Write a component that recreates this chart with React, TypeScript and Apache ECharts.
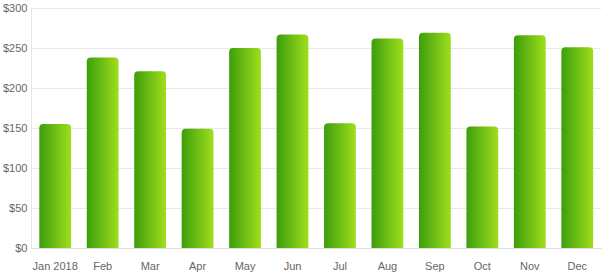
import React, { useEffect, useRef } from "react";
import * as echarts from "echarts";

const categories = ["Jan 2018", "Feb", "Mar", "Apr", "May", "Jun", "Jul", "Aug", "Sep", "Oct", "Nov", "Dec"];
const values = [155, 238, 221, 149, 250, 267, 156, 262, 269, 152, 266, 251];
const yMin = 0;
const yMax = 300;
const yInterval = 50;

export default function App() {
  const ref = useRef<HTMLDivElement>(null);
  useEffect(() => {
    if (!ref.current) return;
    const chart = echarts.init(ref.current, null, { renderer: "svg" });
    chart.setOption({
      animation: false,
      backgroundColor: "#ffffff",
      grid: { left: 29, right: 3, top: 8, bottom: 26 },
      xAxis: {
        type: "category",
        data: categories,
        axisLine: { show: true, lineStyle: { color: "#dddddd" } },
        axisTick: { show: false },
        axisLabel: { interval: 0, color: "#666666", fontSize: 11, fontFamily: "Liberation Sans, Arial, sans-serif", margin: 12 },
      },
      yAxis: {
        type: "value",
        min: yMin,
        max: yMax,
        interval: yInterval,
        axisLine: { show: true, lineStyle: { color: "#e6e6e6" } },
        axisTick: { show: false },
        splitLine: { lineStyle: { color: "#e8e8e8" } },
        axisLabel: {
          color: "#666666",
          fontSize: 11,
          fontFamily: "Liberation Sans, Arial, sans-serif",
          margin: 4,
          formatter: (v: number) => "$" + v,
        },
      },
      series: [
        {
          type: "bar",
          data: values,
          barWidth: "67%",
          itemStyle: {
            borderRadius: [4, 4, 0, 0],
            color: new echarts.graphic.LinearGradient(0, 0, 1, 0, [
              { offset: 0, color: "#3c9e0c" },
              { offset: 1, color: "#a0de1c" },
            ]),
          },
        },
      ],
    });
    return () => chart.dispose();
  }, []);
  return <div ref={ref} style={{ width: 604, height: 274, position: "absolute", left: 0, top: 0 }} />;
}
